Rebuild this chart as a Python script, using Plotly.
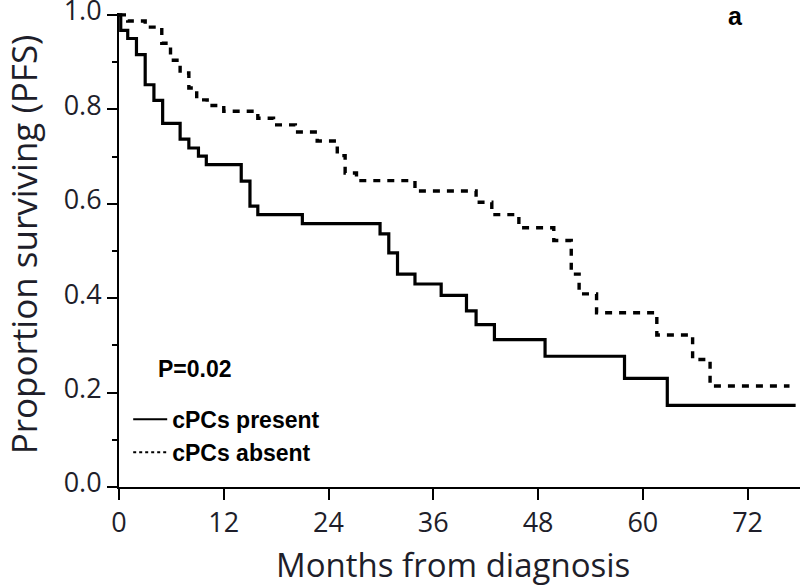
import plotly.graph_objects as go

# cPCs present (solid) — KM step points (months, proportion surviving)
present_months = [0, 0.2, 1.0, 2.0, 3.0, 4.0, 5.0, 7.0, 8.0, 9.1, 10.0, 14.0, 15.0, 15.9,
                  21.0, 29.9, 30.9, 31.9, 33.9, 36.9, 39.8, 40.9, 43.0, 48.8, 57.9, 62.8, 77.5]
present_surv = [1.0, 0.967, 0.950, 0.916, 0.852, 0.819, 0.770, 0.737, 0.718, 0.701, 0.683,
                0.648, 0.595, 0.577, 0.558, 0.536, 0.496, 0.451, 0.430, 0.406, 0.373, 0.344,
                0.312, 0.277, 0.230, 0.173, 0.173]

# cPCs absent (dashed)
absent_months = [0, 1.0, 3.0, 4.9, 5.9, 7.0, 8.0, 8.9, 10.1, 12.0, 15.9, 17.7, 20.2, 22.7,
                 25.0, 25.9, 27.2, 33.9, 40.9, 42.7, 45.8, 49.8, 51.8, 52.7, 54.7, 61.6,
                 65.7, 67.7, 76.8]
absent_surv = [1.0, 0.987, 0.974, 0.940, 0.904, 0.877, 0.845, 0.820, 0.808, 0.796, 0.781,
               0.767, 0.752, 0.733, 0.702, 0.665, 0.649, 0.627, 0.603, 0.577, 0.549, 0.522,
               0.451, 0.409, 0.369, 0.322, 0.270, 0.214, 0.214]

x_ticks = [0, 12, 24, 36, 48, 60, 72]
y_ticks = [0.0, 0.2, 0.4, 0.6, 0.8, 1.0]
y_ticklabels = ["0.0", "0.2", "0.4", "0.6", "0.8", "1.0"]
series_names = ["cPCs present", "cPCs absent"]
x_title = "Months from diagnosis"
y_title = "Proportion surviving (PFS)"
p_text = "P=0.02"
panel_label = "a"

ink = "#1e1e2a"
tick_font = dict(family="Open Sans", size=27, color=ink)
bold_font = dict(family="Liberation Sans, Arial", size=23, color="#000", weight="bold")

fig = go.Figure()
fig.add_trace(go.Scatter(x=present_months, y=present_surv, mode="lines", line_shape="hv",
                         line=dict(color="#000", width=3.2), showlegend=False, hoverinfo="skip"))
fig.add_trace(go.Scatter(x=absent_months, y=absent_surv, mode="lines", line_shape="hv",
                         line=dict(color="#000", width=3.4, dash="7px,7px"), showlegend=False,
                         hoverinfo="skip"))
# legend samples
fig.add_trace(go.Scatter(x=[None], y=[None], mode="lines", name=series_names[0],
                         line=dict(color="#000", width=2)))
fig.add_trace(go.Scatter(x=[None], y=[None], mode="lines", name=series_names[1],
                         line=dict(color="#000", width=2, dash="dot")))

fig.update_layout(
    width=800, height=586,
    margin=dict(l=119, r=0, t=13, b=99),
    plot_bgcolor="white", paper_bgcolor="white",
    showlegend=True,
    legend=dict(x=0.0135, y=0.188, xanchor="left", yanchor="top", font=bold_font,
                bgcolor="rgba(0,0,0,0)", itemwidth=34, tracegroupgap=0,
                traceorder="normal"),
    annotations=[
        dict(text=p_text, x=0.054, y=0.250, xref="paper", yref="paper",
             xanchor="left", yanchor="middle", showarrow=False, font=bold_font),
        dict(text=panel_label, x=0.905, y=1.0, xref="paper", yref="paper",
             xanchor="center", yanchor="top", yshift=13, showarrow=False,
             font=dict(family="Liberation Sans, Arial", size=25, color="#000", weight="bold")),
        dict(text=x_title, x=0.491, y=-0.1635, xref="paper", yref="paper",
             xanchor="center", yanchor="middle", showarrow=False,
             font=dict(family="Open Sans", size=33, color=ink)),
        dict(text=y_title, x=-0.141, y=0.512, xref="paper", yref="paper", textangle=-90,
             xanchor="center", yanchor="middle", showarrow=False,
             font=dict(family="Open Sans", size=35, color=ink)),
    ],
)
fig.update_xaxes(range=[0, 78], tickvals=x_ticks, ticks="outside", ticklen=11, tickwidth=2,
                 tickcolor="#000", showline=True, linecolor="#000", linewidth=2,
                 showgrid=False, zeroline=False, tickfont=tick_font, automargin=False)
fig.update_yaxes(range=[0, 1.004], tickvals=y_ticks, ticktext=y_ticklabels, ticks="outside",
                 ticklen=10, tickwidth=2, tickcolor="#000", showline=True, linecolor="#000",
                 linewidth=2, showgrid=False, zeroline=False, tickfont=tick_font,
                 automargin=False, ticklabeloverflow="allow", ticklabelshift=-4,
                 minor=dict(dtick=0.1, ticks="outside", ticklen=5, tickwidth=2, tickcolor="#000"))

fig.write_html("out.html", config={"displayModeBar": False},
               post_script="document.body.style.margin='0';document.body.style.padding='0';"
                           "document.body.style.overflow='hidden';")
